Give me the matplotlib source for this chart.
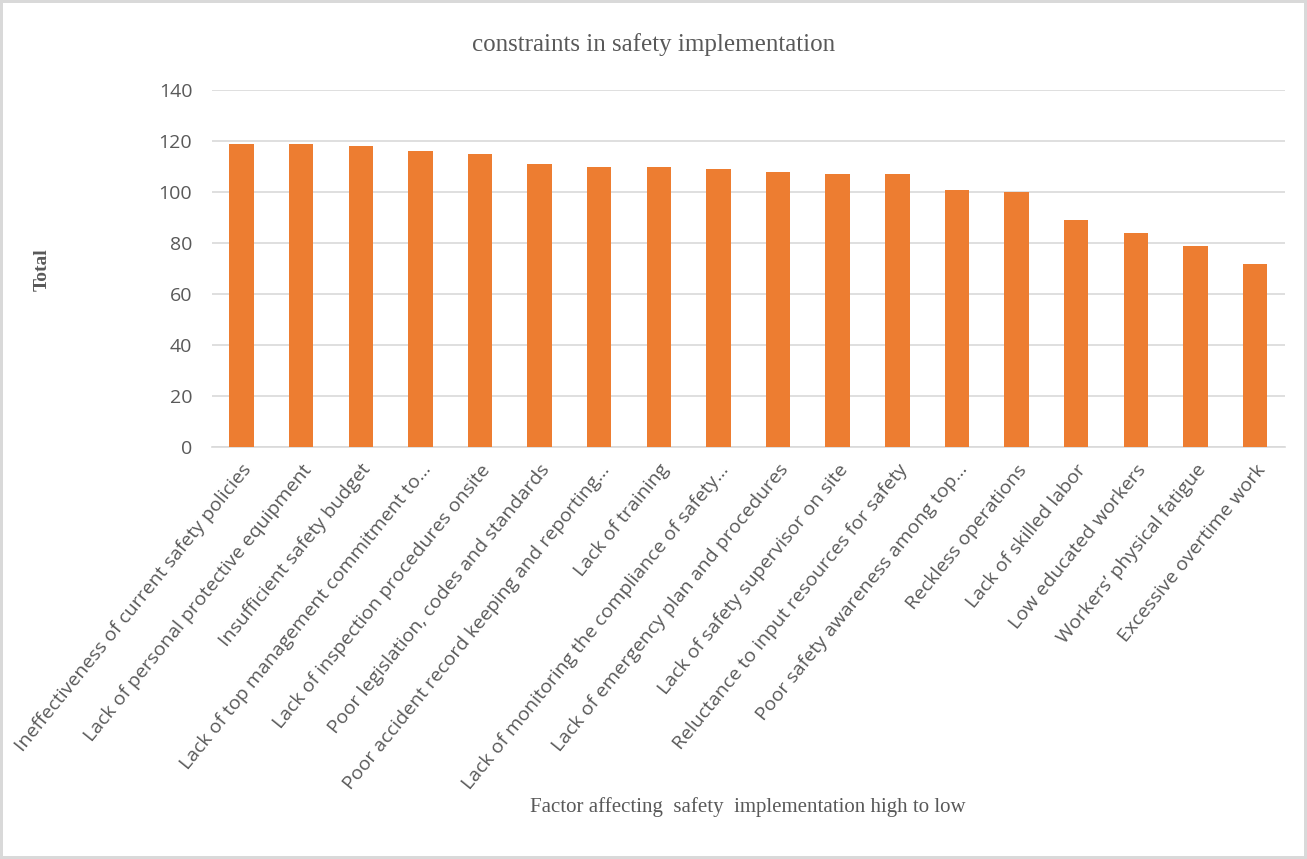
import matplotlib.pyplot as plt
import numpy as np

# Data
factors = [
    "Ineffectiveness of current safety policies",
    "Lack of personal protective equipment",
    "Insufficient safety budget",
    "Lack of top management commitment to\u2026",
    "Lack of inspection procedures onsite",
    "Poor legislation, codes and standards",
    "Poor accident record keeping and reporting\u2026",
    "Lack of training",
    "Lack of monitoring the compliance of safety\u2026",
    "Lack of emergency plan and procedures",
    "Lack of safety supervisor on site",
    "Reluctance to input resources for safety",
    "Poor safety awareness among top\u2026",
    "Reckless operations",
    "Lack of skilled labor",
    "Low educated workers",
    "Workers\u2019 physical fatigue",
    "Excessive overtime work",
]
totals = [119, 119, 118, 116, 115, 111, 110, 110, 109, 108, 107, 107, 101, 100, 89, 84, 79, 72]
yticks = [0, 20, 40, 60, 80, 100, 120, 140]

fig = plt.figure(figsize=(13.07, 8.59), dpi=100)
fig.patch.set_edgecolor('#d9d9d9')
fig.patch.set_linewidth(3)
ax = fig.add_axes([0.162, 0.4796, 0.821, 0.4154])

x = np.arange(len(factors))
ax.bar(x, totals, width=0.41, color='#ED7D31', zorder=3)

ax.set_xlim(-0.5, len(factors) - 0.5)
ax.set_ylim(0, 140)
ax.set_yticks(yticks)
ax.grid(axis='y', color='#d9d9d9', linewidth=1.2, zorder=0)
for s in ['top', 'right', 'left']:
    ax.spines[s].set_visible(False)
ax.spines['bottom'].set_color('#d9d9d9')
ax.spines['bottom'].set_linewidth(1.2)
ax.tick_params(axis='both', length=0, colors='#595959')
ax.tick_params(axis='y', labelsize=14, pad=14)

ax.set_xticks(x)
ax.set_xticklabels(factors, rotation=51, ha='right', rotation_mode='anchor',
                   fontsize=14, family='Open Sans', color='#595959')
ax.tick_params(axis='x', pad=10)
for lbl in ax.get_yticklabels():
    lbl.set_family('Open Sans')

fig.text(0.5, 0.948, 'constraints in safety implementation', ha='center', va='center',
         family='Liberation Serif', fontsize=18, color='#595959')
fig.text(0.032, 0.686, 'Total', rotation=90, ha='center', va='center',
         family='Liberation Serif', fontsize=14, fontweight='bold', color='#595959')
fig.text(0.572, 0.06, 'Factor affecting  safety  implementation high to low', ha='center',
         va='center', family='Liberation Serif', fontsize=15, color='#595959')

fig.savefig('out.png', dpi=100)
